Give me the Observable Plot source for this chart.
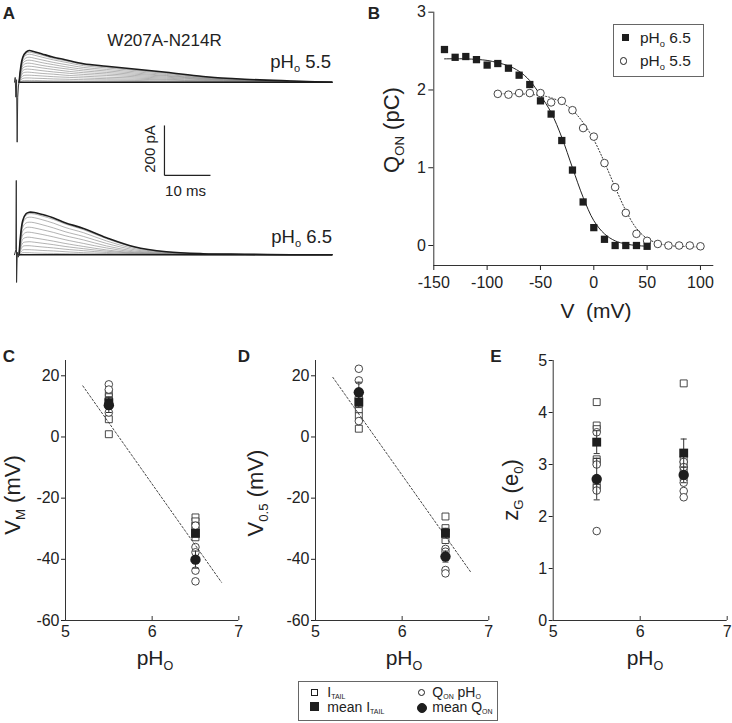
<!DOCTYPE html>
<html><head><meta charset="utf-8">
<script src="https://cdn.jsdelivr.net/npm/d3@7"></script>
<script src="https://cdn.jsdelivr.net/npm/@observablehq/plot@0.6"></script>
<style>
body{margin:0;background:#fff}
#fig{position:relative;width:732px;height:723px;overflow:hidden;font-family:"Liberation Sans",Arial,Helvetica,sans-serif;color:#222;background:#fff}
#fig svg{position:absolute;background:transparent !important;max-width:none !important}
.lbl{position:absolute;white-space:nowrap;line-height:1}
.sb{font-size:0.6em;position:relative;top:0.4em}
.sbs{font-size:0.5em;position:relative;top:0.3em}
.leg{position:absolute;white-space:nowrap;font-size:14px;line-height:12.7px}
.box{position:absolute;border:1px solid #666;box-sizing:border-box}
.sym{position:absolute;box-sizing:border-box}
</style></head><body><div id="fig"></div>
<script>
// ---------------- Panel A: current traces ----------------
const TRACE_T = [1.0, 1.8, 2.5, 3.2, 4.3, 6, 8.5, 11, 15, 20, 26, 33, 41, 50, 60, 69];
const TRACES_PH55 = [
  [0, 100, 120, 127, 122, 113, 100, 90, 74, 64, 53, 40, 23, 12, 5, 0],
  [0, 97, 115, 120, 116, 108, 95, 86, 71, 61, 50, 38, 22, 11, 5, 0],
  [0, 92, 108, 112, 108, 100, 89, 80, 66, 57, 47, 35, 20, 10, 4, 0],
  [0, 84, 97, 100, 96, 89, 79, 71, 59, 51, 42, 31, 18, 9, 4, 0],
  [0, 75, 86, 88, 85, 78, 70, 62, 52, 45, 37, 27, 16, 8, 3, 0],
  [0, 66, 75, 76, 73, 67, 60, 54, 45, 39, 32, 24, 14, 7, 3, 0],
  [0, 56, 63, 64, 62, 57, 51, 45, 38, 33, 27, 20, 12, 6, 2, 0],
  [0, 46, 52, 52, 50, 46, 41, 37, 31, 27, 22, 16, 10, 5, 2, 0],
  [0, 36, 40, 40, 38, 35, 32, 28, 24, 20, 17, 12, 7, 4, 1, 0],
  [0, 25, 28, 28, 27, 25, 22, 20, 17, 14, 12, 9, 5, 3, 1, 0],
  [0, 15, 17, 17, 16, 15, 13, 12, 10, 9, 7, 5, 3, 2, 1, 0],
  [0, 6, 7, 7, 7, 6, 5, 5, 4, 4, 3, 2, 1, 1, 0, 0],
  [0, 0, 0, 0, 0, 0, 0, 0, 0, 0, 0, 0, 0, 0, 0, 0]
];
const TRACES_PH65 = [
  [0, 137, 164, 170, 169, 161, 147, 128, 105, 68, 32, 12, 4, 2, 0, 0],
  [0, 133, 158, 164, 163, 155, 141, 123, 100, 64, 30, 11, 4, 2, 0, 0],
  [0, 125, 146, 150, 148, 140, 126, 109, 88, 55, 25, 9, 3, 1, 0, 0],
  [0, 110, 127, 130, 128, 120, 107, 92, 73, 45, 20, 7, 2, 1, 0, 0],
  [0, 95, 108, 110, 107, 100, 89, 76, 59, 35, 15, 5, 2, 0, 0, 0],
  [0, 79, 89, 90, 87, 81, 71, 60, 45, 27, 11, 4, 1, 0, 0, 0],
  [0, 62, 69, 70, 67, 62, 54, 45, 33, 19, 8, 3, 1, 0, 0, 0],
  [0, 47, 51, 52, 50, 46, 40, 33, 24, 14, 6, 2, 0, 0, 0, 0],
  [0, 33, 36, 36, 34, 31, 27, 22, 16, 9, 4, 1, 0, 0, 0, 0],
  [0, 19, 20, 20, 19, 17, 15, 12, 8, 5, 2, 1, 0, 0, 0, 0],
  [0, 8, 8, 8, 7, 6, 5, 4, 3, 2, 1, 0, 0, 0, 0, 0],
  [0, 0, 0, 0, 0, 0, 0, 0, 0, 0, 0, 0, 0, 0, 0, 0]
];
const SPIKE55_T = [0, 0.15, 0.3, 0.45, 0.58, 0.7, 0.85, 1.0];
const SPIKE55_V = [0, 19, -60, 10, -240, -60, -15, 0];
const SPIKE65_T = [0, 0.3, 0.39, 0.45, 0.6, 0.8, 1.0];
const SPIKE65_V = [0, 20, 297, -111, 10, -10, 0];
const BOTTOM_BASE = -690;            // vertical offset of the pHo 6.5 family (pA)
const SCALE_BAR = {t0: 32.6, v0: -373, dt: 10, dv: 200};

// ---------------- Panel B: Q-V ----------------
const QV_V65 = [-140,-130,-120,-110,-100,-90,-80,-70,-60,-50,-40,-30,-20,-10,0,10,20,30,40,50];
const QV_Q65 = [2.52,2.42,2.43,2.39,2.32,2.34,2.28,2.19,2.07,1.86,1.69,1.35,0.97,0.56,0.23,0.08,0.0,0.0,0.0,-0.01];
const QV_V55 = [-90,-80,-70,-60,-50,-40,-30,-20,-10,0,10,20,30,40,50,60,70,80,90,100];
const QV_Q55 = [1.95,1.94,1.96,1.96,1.96,1.84,1.86,1.74,1.51,1.40,1.06,0.75,0.42,0.15,0.06,0.02,0.0,0.0,0.0,-0.01];
const FIT65_V = [-140,-120,-100,-90,-80,-70,-60,-50,-40,-30,-20,-10,0,10,20,30,40,50];
const FIT65_Q = [2.40,2.40,2.38,2.35,2.31,2.24,2.12,1.93,1.71,1.39,1.00,0.62,0.32,0.15,0.06,0.02,0.0,-0.01];
const FIT55_V = [-90,-70,-50,-40,-30,-20,-10,0,10,20,30,40,50,60,70,80,100];
const FIT55_Q = [1.95,1.95,1.93,1.90,1.84,1.74,1.58,1.36,1.07,0.75,0.45,0.22,0.09,0.03,0.0,-0.01,-0.02];
const B_X_TICKS = [-150,-100,-50,0,50,100];
const B_Y_TICKS = [0,1,2,3];

// ---------------- Panels C, D, E ----------------
const PH_LEVELS = [5.5, 6.5];
const PH_TICKS = [5, 6, 7];
const V_TICKS = [-60, -40, -20, 0, 20];
const Z_TICKS = [0, 1, 2, 3, 4, 5];

const VM_ITAIL_55 = [14.5, 13, 12, 5.8, 0.9];
const VM_ITAIL_65 = [-26.3, -27.6, -29, -30.6, -32.8];
const VM_QON_55 = [17.2, 15.5, 10, 8];
const VM_QON_65 = [-29, -36, -37.7, -43.7, -47.2];
const VM_MEAN_ITAIL = [11.2, -31.5];
const VM_SEM_ITAIL = [1.8, 1.2];
const VM_MEAN_QON = [10.4, -40.1];
const VM_SEM_QON = [2.4, 2.8];
const VM_FIT_PH = [5.2, 6.8];
const VM_FIT_V = [16.7, -47.5];

const V05_ITAIL_55 = [11.5, 9, 6.8, 2.7];
const V05_ITAIL_65 = [-26, -29.8, -31, -33.7];
const V05_QON_55 = [22.3, 18.5, 13, 5.2];
const V05_QON_65 = [-36.6, -37.5, -43.5, -44.6];
const V05_MEAN_ITAIL = [11.4, -31.5];
const V05_SEM_ITAIL = [1.8, 1.6];
const V05_MEAN_QON = [14.6, -39.1];
const V05_SEM_QON = [3.3, 1.8];
const V05_FIT_PH = [5.2, 6.8];
const V05_FIT_V = [19.5, -44.5];

const ZG_ITAIL_55 = [4.2, 3.75, 3.68, 3.1, 3.05, 2.6, 2.55];
const ZG_ITAIL_65 = [4.56, 3.1, 3.0, 2.9, 2.75];
const ZG_QON_55 = [3.62, 3.0, 2.5, 1.72];
const ZG_QON_65 = [3.05, 2.95, 2.65, 2.49, 2.37];
const ZG_MEAN_ITAIL = [3.43, 3.22];
const ZG_SEM_ITAIL = [0.22, 0.27];
const ZG_MEAN_QON = [2.72, 2.8];
const ZG_SEM_QON = [0.4, 0.15];

// ---------------- helpers ----------------
const fig = document.getElementById('fig');
const FONT = '"Liberation Sans", Arial, Helvetica, sans-serif';
const baseStyle = {fontFamily: FONT, fontSize: '16px', color: '#222', background: 'transparent', overflow: 'visible'};
const INK = '#1e1e1e';

function place(svg, left, top) {
  svg.style.position = 'absolute';
  svg.style.left = left + 'px';
  svg.style.top = top + 'px';
  fig.appendChild(svg);
}
function label(html, x, y, o = {}) {
  const d = document.createElement('div');
  d.className = 'lbl';
  d.innerHTML = html;
  d.style.left = x + 'px';
  d.style.top = y + 'px';
  d.style.fontSize = (o.size || 16) + 'px';
  if (o.bold) d.style.fontWeight = 'bold';
  const ax = o.anchor === 'start' ? '0%' : o.anchor === 'end' ? '-100%' : '-50%';
  d.style.transform = `translate(${ax},-50%)` + (o.rotate ? ' rotate(-90deg)' : '');
  fig.appendChild(d);
}
function legendBlock(html, x, top) {
  const d = document.createElement('div');
  d.className = 'leg';
  d.innerHTML = html;
  d.style.left = x + 'px';
  d.style.top = top + 'px';
  fig.appendChild(d);
}
function sym(kind, cx, cy, size, filled) {
  const d = document.createElement('div');
  d.className = 'sym';
  d.style.left = (cx - size / 2) + 'px';
  d.style.top = (cy - size / 2) + 'px';
  d.style.width = size + 'px';
  d.style.height = size + 'px';
  d.style.border = '1px solid ' + INK;
  d.style.background = filled ? INK : '#fff';
  if (kind === 'circle') d.style.borderRadius = '50%';
  fig.appendChild(d);
}
function box(x, y, w, h) {
  const d = document.createElement('div');
  d.className = 'box';
  Object.assign(d.style, {left: x + 'px', top: y + 'px', width: w + 'px', height: h + 'px'});
  fig.appendChild(d);
}

// ---------------- Panel A ----------------
function familyRows(traces, base, fam) {
  const rows = [];
  traces.forEach((vals, i) => vals.forEach((v, j) => rows.push({
    t: TRACE_T[j], v: v + base, id: fam + i,
    edge: i === 0 || i === traces.length - 1
  })));
  return rows;
}
const traceRows = familyRows(TRACES_PH55, 0, 'a').concat(familyRows(TRACES_PH65, BOTTOM_BASE, 'b'));
const spikeRows = SPIKE55_T.map((t, i) => ({t, v: SPIKE55_V[i], id: 's55'}))
  .concat(SPIKE65_T.map((t, i) => ({t, v: SPIKE65_V[i] + BOTTOM_BASE, id: 's65'})));

place(Plot.plot({
  width: 340, height: 300, marginLeft: 14, marginRight: 8, marginTop: 0, marginBottom: 0,
  x: {domain: [0, 69.13], axis: null},
  y: {domain: [-873.2, 326.8], axis: null},
  style: baseStyle,
  marks: [
    Plot.line(traceRows.filter(d => !d.edge), {x: 't', y: 'v', z: 'id', stroke: '#808080', strokeWidth: 0.6, curve: 'catmull-rom'}),
    Plot.line(traceRows.filter(d => d.edge), {x: 't', y: 'v', z: 'id', stroke: '#1c1c1c', strokeWidth: 1.6, curve: 'catmull-rom'}),
    Plot.line(spikeRows, {x: 't', y: 'v', z: 'id', stroke: '#333', strokeWidth: 1}),
    Plot.link([SCALE_BAR], {x1: 't0', y1: 'v0', x2: 't0', y2: d => d.v0 + d.dv, stroke: '#222', strokeWidth: 1.2}),
    Plot.link([SCALE_BAR], {x1: 't0', y1: 'v0', x2: d => d.t0 + d.dt, y2: 'v0', stroke: '#222', strokeWidth: 1.2})
  ]
}), 0, 0);

label('A', 9, 12.5, {size: 17, bold: true});
label('W207A-N214R', 164.5, 39.5, {size: 17});
label('pH<span class="sb">o</span> 5.5', 331, 61.7, {size: 18.5, anchor: 'end'});
label('pH<span class="sb">o</span> 6.5', 332, 236.7, {size: 18.5, anchor: 'end'});
label('200 pA', 148.5, 149, {size: 15, rotate: true});
label('10 ms', 185.5, 190, {size: 15});

// ---------------- Panel B ----------------
const B_Y_DOMAIN = [-0.257, 3];
const B_X_DOMAIN = [-150, 112.5];
place(Plot.plot({
  width: 362, height: 330, marginLeft: 63.3, marginRight: 18.7, marginTop: 11.7, marginBottom: 65,
  x: {domain: B_X_DOMAIN, ticks: B_X_TICKS, tickSize: 5, tickPadding: 6, tickFormat: d => String(d), label: null},
  y: {domain: B_Y_DOMAIN, ticks: B_Y_TICKS, tickSize: 5, tickPadding: 3, tickFormat: d => String(d), label: null},
  style: baseStyle,
  marks: [
    Plot.ruleX([B_X_DOMAIN[0]], {stroke: '#333'}),
    Plot.ruleY([B_Y_DOMAIN[0]], {stroke: '#333'}),
    Plot.line(FIT65_V.map((v, i) => ({v, q: FIT65_Q[i]})), {x: 'v', y: 'q', stroke: '#222', strokeWidth: 1, curve: 'catmull-rom'}),
    Plot.line(FIT55_V.map((v, i) => ({v, q: FIT55_Q[i]})), {x: 'v', y: 'q', stroke: '#333', strokeWidth: 1, strokeDasharray: '1.2,2', curve: 'catmull-rom'}),
    Plot.dot(QV_V55.map((v, i) => ({v, q: QV_Q55[i]})), {x: 'v', y: 'q', r: 3.8, fill: '#fff', stroke: '#333', strokeWidth: 0.9}),
    Plot.dot(QV_V65.map((v, i) => ({v, q: QV_Q65[i]})), {x: 'v', y: 'q', r: 4.1, symbol: 'square', fill: INK, stroke: 'none'})
  ]
}), 370, 0);

label('B', 374, 12.5, {size: 17, bold: true});
label('Q<span class="sb">ON</span> (pC)', 391.7, 130, {size: 22, rotate: true});
label('V&nbsp;&nbsp;(mV)', 596, 310, {size: 21});
box(613, 24, 91, 53);
sym('square', 625.7, 37.7, 7, true);
label('pH<span class="sb">o</span> 6.5', 640, 38.3, {size: 15.5, anchor: 'start'});
sym('circle', 623.5, 61, 7.5, false);
label('pH<span class="sb">o</span> 5.5', 640, 61, {size: 15.5, anchor: 'start'});

// ---------------- Panels C, D, E ----------------
function scatterPanel(o) {
  const [y0, y1] = o.yDomain;
  const frameH = 260;
  const tickLen = 4 * (y1 - y0) / frameH;
  const cap = 0.035;
  const pts = (arr, pH) => arr.map(v => ({pH, v}));
  const openSq = pts(o.itail55, 5.5).concat(pts(o.itail65, 6.5));
  const openCi = pts(o.qon55, 5.5).concat(pts(o.qon65, 6.5));
  const mI = PH_LEVELS.map((pH, i) => ({pH, m: o.meanI[i], e: o.semI[i]}));
  const mQ = PH_LEVELS.map((pH, i) => ({pH, m: o.meanQ[i], e: o.semQ[i]}));
  const errs = mI.concat(mQ);
  const marks = [
    Plot.ruleX([5], {stroke: '#333'}),
    Plot.ruleY([y0], {stroke: '#333'}),
    Plot.ruleX(PH_TICKS.slice(1), {x: d => d, y1: () => y0, y2: () => y0 + tickLen, stroke: '#333'}),
    Plot.dot(openSq, {x: 'pH', y: 'v', r: 3.9, symbol: 'square', fill: '#fff', stroke: '#333', strokeWidth: 0.9}),
    Plot.dot(openCi, {x: 'pH', y: 'v', r: 3.8, fill: '#fff', stroke: '#333', strokeWidth: 0.9})
  ];
  if (o.fitX) marks.push(Plot.line(o.fitX.map((x, i) => ({x, y: o.fitY[i]})), {x: 'x', y: 'y', stroke: '#333', strokeWidth: 0.9, strokeDasharray: '2,2'}));
  marks.push(
    Plot.ruleX(errs, {x: 'pH', y1: d => d.m - d.e, y2: d => d.m + d.e, stroke: '#333', strokeWidth: 1}),
    Plot.link(errs, {x1: d => d.pH - cap, x2: d => d.pH + cap, y1: d => d.m + d.e, y2: d => d.m + d.e, stroke: '#333'}),
    Plot.link(errs, {x1: d => d.pH - cap, x2: d => d.pH + cap, y1: d => d.m - d.e, y2: d => d.m - d.e, stroke: '#333'}),
    Plot.dot(mI, {x: 'pH', y: 'm', r: 5, symbol: 'square', fill: INK, stroke: 'none'}),
    Plot.dot(mQ, {x: 'pH', y: 'm', r: 5.2, fill: INK, stroke: 'none'})
  );
  place(Plot.plot({
    width: o.width, height: 320, marginLeft: o.mL, marginRight: o.mR, marginTop: 20, marginBottom: 40,
    x: {domain: [5, 7], ticks: PH_TICKS, tickSize: 0, tickPadding: 5, tickFormat: d => String(d), label: null},
    y: {domain: o.yDomain, ticks: o.yTicks, tickSize: 4, tickPadding: 2, tickFormat: d => String(d), label: null},
    style: baseStyle,
    marks
  }), o.left, 340);
}

scatterPanel({left: 0, width: 245, mL: 65, mR: 6.7, yDomain: [-60, 25], yTicks: V_TICKS,
  itail55: VM_ITAIL_55, itail65: VM_ITAIL_65, qon55: VM_QON_55, qon65: VM_QON_65,
  meanI: VM_MEAN_ITAIL, semI: VM_SEM_ITAIL, meanQ: VM_MEAN_QON, semQ: VM_SEM_QON,
  fitX: VM_FIT_PH, fitY: VM_FIT_V});
scatterPanel({left: 245, width: 245, mL: 70, mR: 1.7, yDomain: [-60, 25], yTicks: V_TICKS,
  itail55: V05_ITAIL_55, itail65: V05_ITAIL_65, qon55: V05_QON_55, qon65: V05_QON_65,
  meanI: V05_MEAN_ITAIL, semI: V05_SEM_ITAIL, meanQ: V05_MEAN_QON, semQ: V05_SEM_QON,
  fitX: V05_FIT_PH, fitY: V05_FIT_V});
scatterPanel({left: 490, width: 242, mL: 62.7, mR: 5.3, yDomain: [0, 5], yTicks: Z_TICKS,
  itail55: ZG_ITAIL_55, itail65: ZG_ITAIL_65, qon55: ZG_QON_55, qon65: ZG_QON_65,
  meanI: ZG_MEAN_ITAIL, semI: ZG_SEM_ITAIL, meanQ: ZG_MEAN_QON, semQ: ZG_SEM_QON});

label('C', 9, 356, {size: 17, bold: true});
label('D', 244, 356, {size: 17, bold: true});
label('E', 496, 356, {size: 17, bold: true});
label('V<span class="sb">M</span> (mV)', 13.3, 495, {size: 22, rotate: true});
label('V<span class="sb">0.5</span> (mV)', 256, 493, {size: 22, rotate: true});
label('z<span class="sb">G</span> (e<span class="sb">0</span>)', 511, 490, {size: 22, rotate: true});
label('pH<span class="sb">O</span>', 155, 657, {size: 21});
label('pH<span class="sb">O</span>', 404, 657, {size: 21});
label('pH<span class="sb">O</span>', 645, 657, {size: 21});

// ---------------- bottom legend ----------------
box(298, 681, 200, 40);
sym('square', 314.3, 692.3, 7, false);
sym('square', 314.3, 706.3, 9, true);
sym('circle', 421.7, 692.3, 7.5, false);
sym('circle', 421.7, 708, 10, true);
legendBlock('I<span class="sbs">TAIL</span><br>mean I<span class="sbs">TAIL</span>', 327.3, 685.6);
legendBlock('Q<span class="sbs">ON</span> pH<span class="sbs">O</span><br>mean Q<span class="sbs">ON</span>', 432.3, 685.6);
</script></body></html>
